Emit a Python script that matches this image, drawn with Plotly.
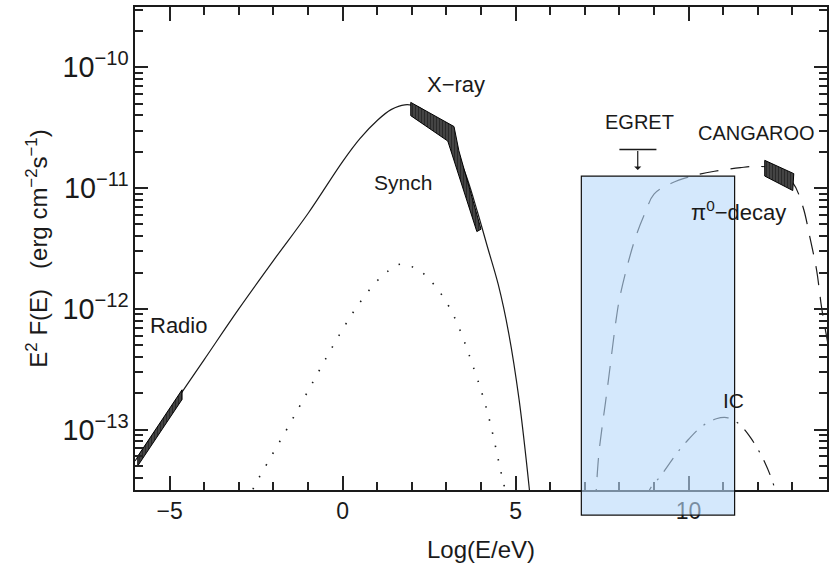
import numpy as np
import plotly.graph_objects as go

# ---- data (x = log10(E/eV), values = log10 of E^2 F(E) in erg cm^-2 s^-1) ----
synch_x = [-6, -5, -4, -3, -2, -1, 0, 0.5, 1.0, 1.4, 1.8, 2.2, 2.6, 3.0, 3.3, 3.6,
           3.9, 4.2, 4.5, 4.8, 5.1, 5.4, 5.5]
synch_log = [-13.26, -12.84, -12.42, -12.0, -11.60, -11.21, -10.78, -10.59, -10.44,
             -10.35, -10.31, -10.33, -10.42, -10.50, -10.70, -10.92, -11.20, -11.50,
             -11.80, -12.20, -12.75, -13.5, -13.8]

dotted_x = [-2.7, -2.6, -2.2, -1.5, -1.0, -0.5, 0.0, 0.43, 0.96, 1.3, 1.66, 2.2, 2.7,
            3.2, 3.8, 4.2, 4.6, 4.7]
dotted_log = [-13.6, -13.5, -13.29, -12.94, -12.68, -12.42, -12.17, -11.975, -11.78,
              -11.69, -11.63, -11.68, -11.82, -12.05, -12.5, -12.87, -13.38, -13.5]

pi0_x = [7.3, 7.4, 7.5, 7.6, 7.7, 7.8, 7.9, 8.0, 8.25, 8.5, 8.75, 9.0, 9.5, 10.1,
         10.75, 11.5, 12.0, 12.5, 13.0, 13.3, 13.5, 13.7, 13.85, 14.1]
pi0_log = [-13.65, -13.22, -12.98, -12.77, -12.55, -12.32, -12.1, -11.92, -11.62,
           -11.38, -11.2, -11.05, -10.96, -10.90, -10.86, -10.83, -10.82, -10.84,
           -10.95, -11.15, -11.40, -11.68, -12.0, -12.4]

ic_x = [8.8, 8.87, 9.2, 9.65, 10.0, 10.4, 10.8, 11.1, 11.4, 11.75, 12.2, 12.5, 12.55]
ic_log = [-13.6, -13.5, -13.38, -13.2, -13.08, -12.97, -12.91, -12.9, -12.94, -13.05,
          -13.27, -13.5, -13.6]

radio_x = [-5.92, -4.64, -4.64, -5.92, -5.92]
radio_log = [-13.22, -12.67, -12.75, -13.30, -13.22]

xray_x = [1.97, 3.22, 3.36, 4.0, 3.88, 3.04, 1.97, 1.97]
xray_log = [-10.29, -10.49, -10.69, -11.34, -11.36, -10.61, -10.40, -10.29]

cang_x = [12.2, 13.04, 13.01, 12.2, 12.2]
cang_log = [-10.77, -10.88, -11.02, -10.90, -10.77]

egret_x = [8.0, 9.07]
egret_log = -10.68
egret_arrow_x = 8.53
egret_arrow_tip_log = -10.85

highlight_x = [6.9, 11.33]

labels = [
    ("Radio", -4.75, -12.14, 22),
    ("Synch", 1.75, -10.955, 21),
    ("X\u2212ray", 3.28, -10.145, 22),
    ("EGRET", 8.58, -10.45, 20),
    ("CANGAROO", 11.95, -10.54, 20),
    ("\u03c0<sup>0</sup>\u2212decay", 11.45, -11.19, 22),
    ("IC", 11.31, -12.755, 21),
]

x_range = [-6, 14]
y_log_range = [-13.5, -9.5]

def flux(v):
    return np.power(10.0, np.asarray(v, dtype=float))

ink = "#1a1a1a"
tick_ink = "#222222"
font = "Liberation Sans"

fig = go.Figure()

fig.add_trace(go.Scatter(x=synch_x, y=flux(synch_log), mode="lines",
                         line=dict(color=ink, width=1.2, shape="spline"),
                         showlegend=False))
fig.add_trace(go.Scatter(x=dotted_x, y=flux(dotted_log), mode="lines",
                         line=dict(color=ink, width=1.6, shape="spline", dash="1.5px,12px"),
                         showlegend=False))
fig.add_trace(go.Scatter(x=pi0_x, y=flux(pi0_log), mode="lines",
                         line=dict(color=ink, width=1.2, shape="spline", dash="19px,12px"),
                         showlegend=False))
fig.add_trace(go.Scatter(x=ic_x, y=flux(ic_log), mode="lines",
                         line=dict(color=ink, width=1.2, shape="spline",
                                   dash="16px,9px,2px,9px"),
                         showlegend=False))

for hx, hl in [(radio_x, radio_log), (xray_x, xray_log), (cang_x, cang_log)]:
    fig.add_trace(go.Scatter(x=hx, y=flux(hl), mode="lines", fill="toself",
                             line=dict(color="#000000", width=1.0),
                             fillcolor="#444444",
                             fillpattern=dict(shape="|", fgcolor="#000000",
                                              bgcolor="#555555", size=3,
                                              solidity=0.6),
                             showlegend=False))

fig.add_trace(go.Scatter(x=egret_x, y=flux([egret_log, egret_log]), mode="lines",
                         line=dict(color=ink, width=1.3), showlegend=False))

# invisible trace so that the mirrored top / right tick axes are drawn
fig.add_trace(go.Scatter(x=x_range, y=flux(y_log_range), xaxis="x2", yaxis="y2",
                         mode="lines", line=dict(width=0), hoverinfo="skip",
                         showlegend=False))

fig.add_annotation(x=egret_arrow_x, y=egret_arrow_tip_log, ax=egret_arrow_x, ay=egret_log,
                   xref="x", yref="y", axref="x", ayref="y", text="",
                   showarrow=True, arrowhead=1, arrowsize=1.0, arrowwidth=1.2,
                   arrowcolor=ink)

for txt, lx, ly, fs in labels:
    fig.add_annotation(x=lx, y=ly, xref="x", yref="y", text=txt, showarrow=False,
                       font=dict(family=font, size=fs, color=ink))

fig.add_shape(type="rect", xref="x", yref="paper", x0=highlight_x[0], x1=highlight_x[1],
              y0=-0.052, y1=0.650, layer="above",
              fillcolor="rgba(183,217,250,0.6)", line=dict(color="#111111", width=1.2))

axis_common = dict(showline=True, linecolor=ink, linewidth=1.5, ticks="inside",
                   tickcolor=tick_ink, tickwidth=2, showgrid=False, zeroline=False,
                   automargin=False, layer="above traces",
                   tickfont=dict(family=font, size=23, color=ink))
x_ticks = dict(range=x_range, dtick=5, tick0=0, ticklen=14,
               minor=dict(dtick=1, tick0=0, ticks="inside", ticklen=8, tickcolor=tick_ink,
                          tickwidth=1.8, showgrid=False))
y_ticks = dict(type="log", range=y_log_range, dtick=1, exponentformat="power", ticklen=13,
               minor=dict(dtick="D1", ticks="inside", ticklen=8, tickcolor=tick_ink,
                          tickwidth=1.8, showgrid=False))

fig.update_layout(
    width=831, height=579, margin=dict(l=135, r=4, t=7, b=89),
    plot_bgcolor="white", paper_bgcolor="white",
    font=dict(family=font, color=ink),
    xaxis=dict(title=dict(text="Log(E/eV)", font=dict(family=font, size=24, color=ink),
                          standoff=18),
               **x_ticks, **axis_common),
    yaxis=dict(title=dict(text="E<sup>2</sup> F(E)   (erg cm<sup>\u22122</sup>s<sup>\u22121</sup>)",
                          font=dict(family=font, size=24, color=ink), standoff=8),
               **y_ticks, **axis_common),
    xaxis2=dict(overlaying="x", side="top", anchor="y2", showticklabels=False,
                **x_ticks, **axis_common),
    yaxis2=dict(overlaying="y", side="right", anchor="x2", showticklabels=False,
                **y_ticks, **axis_common),
)

fig.write_html("out.html", config={"displayModeBar": False},
               post_script="document.body.style.margin='0';document.body.style.overflow='hidden';")
